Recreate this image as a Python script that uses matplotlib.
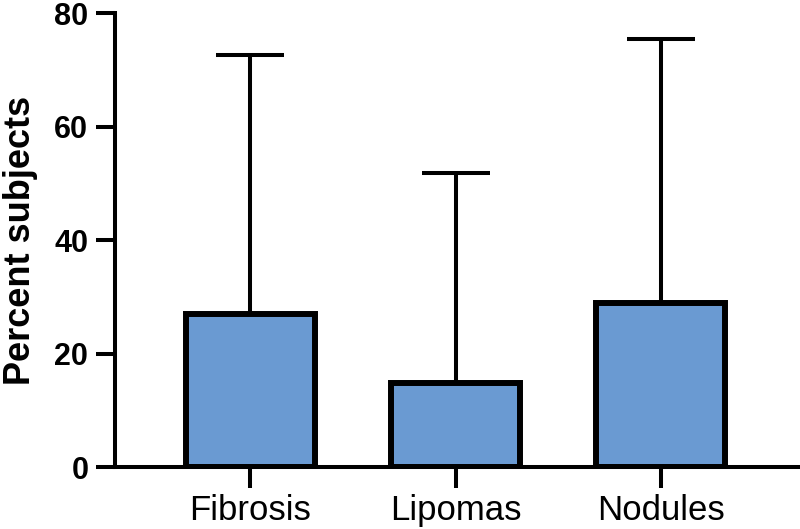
import numpy as np
import matplotlib
matplotlib.use('Agg')
import matplotlib.pyplot as plt

plt.rcParams['font.family'] = ['Liberation Sans', 'DejaVu Sans']

categories = ['Fibrosis', 'Lipomas', 'Nodules']
means = [27.0, 14.9, 29.0]
sd = [45.6, 37.0, 46.4]

x = np.arange(len(categories))

fig = plt.figure(figsize=(8, 5.29), dpi=100)
ax = fig.add_axes([0.1434, 0.1163, 0.8566, 0.8591])

ax.errorbar(x, means, yerr=[np.zeros(len(sd)), sd], fmt='none', ecolor='k',
            elinewidth=2.9, capsize=24.5, capthick=2.9, zorder=1)
ax.bar(x, means, width=0.63, color='#6A9AD2', edgecolor='k', linewidth=4.3, zorder=2)

ax.set_xlim(-0.662, 2.68)
ax.set_ylim(0, 80)
ax.set_yticks([0, 20, 40, 60, 80])
ax.set_xticks(x)
ax.set_xticklabels(categories)

for side in ['top', 'right']:
  ax.spines[side].set_visible(False)
for side in ['left', 'bottom']:
  ax.spines[side].set_linewidth(2.9)

ax.tick_params(axis='y', length=14, width=2.9, pad=5, labelsize=22)
ax.tick_params(axis='x', length=15, width=2.9, pad=4, labelsize=25)
for lbl in ax.get_yticklabels():
  lbl.set_fontweight('bold')

ax.set_ylabel('Percent subjects', fontsize=26, fontweight='bold', labelpad=12)

plt.savefig('out.png', dpi=100)
